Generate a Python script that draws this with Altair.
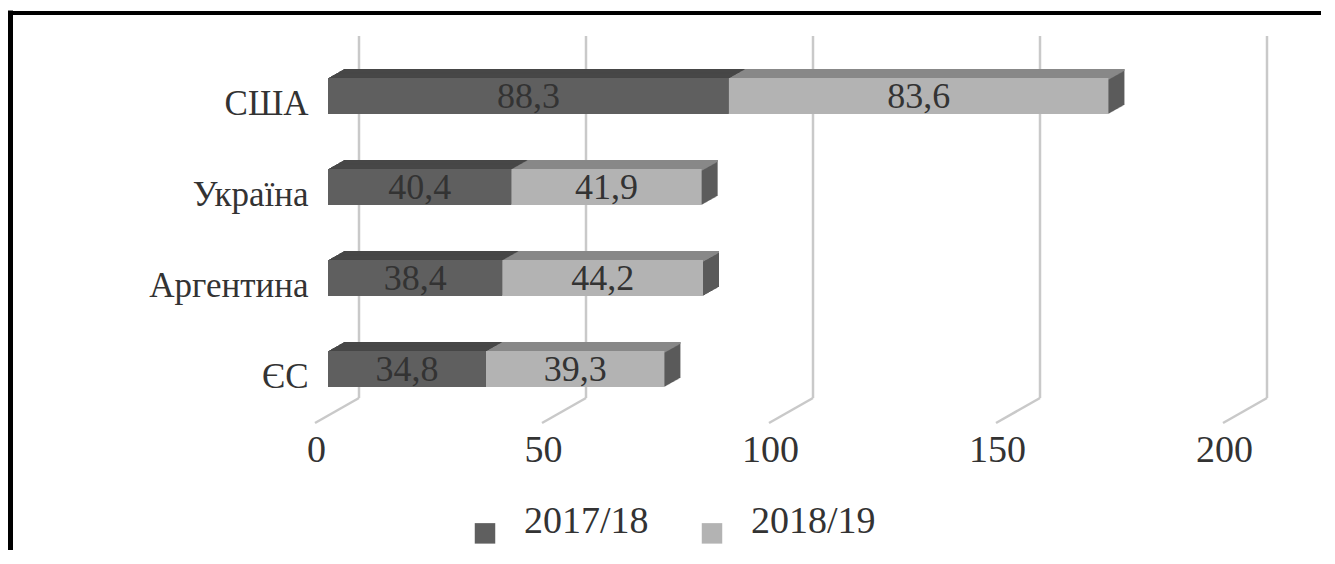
import altair as alt
import pandas as pd

# ---- data ----
countries = ["США", "Україна", "Аргентина", "ЄС"]
seasons = ["2017/18", "2018/19"]
values_2017_18 = [88.3, 40.4, 38.4, 34.8]
values_2018_19 = [83.6, 41.9, 44.2, 39.3]
tick_values = [0, 50, 100, 150, 200]

# ---- styles ----
front_colors = ["#5f5f5f", "#b3b3b3"]
top_colors = ["#474747", "#888888"]
side_color = "#5b5b5b"
grid_color = "#c9c9c9"
text_color = "#333333"
FONT = "Liberation Serif"

rows = []
for c, a, b in zip(countries, values_2017_18, values_2018_19):
    rows.append(dict(country=c, season=seasons[0], start=0.0, end=a, value=a, top=top_colors[0]))
    rows.append(dict(country=c, season=seasons[1], start=a, end=a + b, value=b, top=top_colors[1]))
df = pd.DataFrame(rows)
df["mid"] = (df["start"] + df["end"]) / 2
df["label"] = df["value"].map(lambda v: f"{v:.1f}".replace(".", ","))
grid_df = pd.DataFrame({"tick": tick_values})

W, H = 908, 364
DX, DY = 16, 9        # 3-D depth of the bars (px)
FRONT_DY = 14.5       # front face shift below band centre
BAR = 36              # front face height
N = 16                # extrusion steps
GRID_DX = 31          # back wall offset of grid lines

x_scale = alt.Scale(domain=[0, 200], nice=False, zero=True)
y_scale = alt.Scale(domain=countries, paddingInner=0.2, paddingOuter=0.1)

x_axis = alt.Axis(title=None, values=tick_values, domain=False, ticks=False, tickSize=0,
                  grid=False, labelFont=FONT, labelFontSize=38, labelColor=text_color,
                  labelOffset=-12, labelPadding=61, labelBaseline="alphabetic",
                  labelFlush=False, labelOverlap=False)
y_axis = alt.Axis(title=None, domain=False, ticks=False, tickSize=0, grid=False,
                  labelFont=FONT, labelFontSize=35, labelColor=text_color,
                  labelPadding=20, labelBaseline="alphabetic", labelOffset=33.5,
                  labelLimit=400)

def xenc(field):
    return alt.X(field, type="quantitative", scale=x_scale, axis=x_axis)

y_enc = alt.Y("country:N", sort=countries, scale=y_scale, axis=y_axis)

base = alt.Chart(df)

# grid lines on the back wall and the floor
grid = alt.Chart(grid_df).mark_rule(color=grid_color, strokeWidth=2.5, xOffset=GRID_DX).encode(
    x=xenc("tick"), y=alt.value(0), y2=alt.value(H - 2)
)
floor = alt.Chart(grid_df).mark_rule(color=grid_color, strokeWidth=2.5,
                                     xOffset=GRID_DX, x2Offset=-13).encode(
    x=xenc("tick"), x2=alt.X2("tick"), y=alt.value(H - 2), y2=alt.value(H + 23)
)

# extrusion (right side), back to front
sides = []
for k in range(N, 0, -1):
    t = k / N
    sides.append(
        base.mark_bar(size=BAR, color=side_color, xOffset=DX * t, x2Offset=DX * t,
                      yOffset=FRONT_DY - DY * t).encode(
            x=xenc("start"), x2=alt.X2("end"), y=y_enc)
    )
# top faces as thin strips
tops = []
for k in range(N, 0, -1):
    t = k / N
    tops.append(
        base.mark_bar(size=2, xOffset=DX * t, x2Offset=DX * t,
                      yOffset=FRONT_DY - BAR / 2 + 1 - DY * t).encode(
            x=xenc("start"), x2=alt.X2("end"), y=y_enc,
            fill=alt.Fill("top:N", scale=None))
    )

front = base.mark_bar(size=BAR, yOffset=FRONT_DY).encode(
    x=xenc("start"), x2=alt.X2("end"), y=y_enc,
    color=alt.Color("season:N", scale=alt.Scale(domain=seasons, range=front_colors),
                    legend=alt.Legend(title=None, orient="none", legendX=138, legendY=478,
                                      direction="horizontal", symbolType="square",
                                      symbolSize=420, symbolStrokeWidth=0,
                                      labelFont=FONT, labelFontSize=38,
                                      labelColor=text_color, labelOffset=20,
                                      columnPadding=44, labelBaseline="alphabetic",
                                      labelLimit=300)),
)

labels = base.mark_text(font=FONT, fontSize=36, color=text_color, baseline="alphabetic",
                        yOffset=FRONT_DY + 11.5).encode(
    x=xenc("mid"), y=y_enc, text="label:N"
)

frame_df = pd.DataFrame({"k": [0]})
border_left = alt.Chart(frame_df).mark_rule(color="black", strokeWidth=5).encode(
    x=alt.value(-317.5), y=alt.value(-25.5), y2=alt.value(600)
)
border_top = alt.Chart(frame_df).mark_rule(color="black", strokeWidth=4).encode(
    x=alt.value(-320), x2=alt.value(1100), y=alt.value(-23)
)

chart = alt.layer(grid, floor, *sides, *tops, front, labels, border_left, border_top).properties(
    width=W, height=H,
    background="white",
    padding={"left": 320, "top": 28, "right": 85, "bottom": 150},
    autosize=alt.AutoSizeParams(type="none"),
).configure_view(stroke=None, strokeWidth=0)

chart.save("out.html", embed_options={"renderer": "svg", "actions": False})
